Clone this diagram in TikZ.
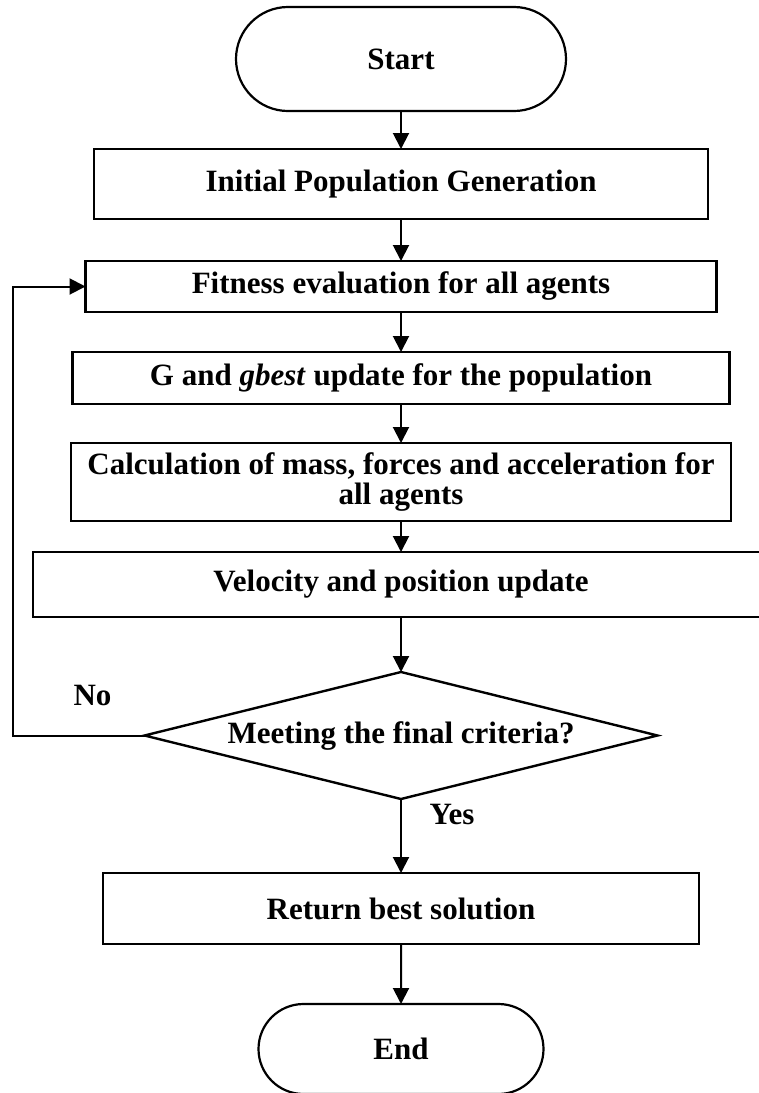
\documentclass[tikz,border=0pt]{standalone}
\usepackage{fontspec}
\setmainfont{Liberation Serif}
\usetikzlibrary{positioning, arrows.meta, shapes.geometric, shapes.misc}

\begin{document}
\begin{tikzpicture}[
    font=\bfseries\fontsize{31}{30}\selectfont,
    >={Triangle[length=16pt,width=16pt]},
    box/.style={draw, line width=2.6pt, inner sep=0pt, outer sep=0pt, align=center},
    term/.style={box, rounded rectangle, line width=2.2pt},
    cond/.style={draw, line width=2.4pt, diamond, aspect=4.04, inner sep=0pt, outer sep=0pt,
                 minimum width=513pt, minimum height=127pt},
    lbl/.style={inner sep=0pt},
    arrow/.style={->, line width=2pt},
]
\useasboundingbox (0,0) rectangle (759pt,-1093pt);

% ------------------------------------------------------------ main column ---
\node[term, minimum width=330pt, minimum height=104pt] (start) at (401pt,-59pt) {Start};
\node[box, minimum width=614pt, minimum height=70pt, below=38pt of start] (init) {Initial Population Generation};
\node[box, minimum width=631pt, minimum height=51pt, below=42pt of init] (fit) {Fitness evaluation for all agents};
\node[box, minimum width=657pt, minimum height=52pt, below=40pt of fit] (gbest) {G and \textit{gbest} update for the population};
\node[box, minimum width=660pt, minimum height=78pt, below=39pt of gbest] (calc) {Calculation of mass, forces and acceleration for\\all agents};
\node[box, minimum width=736pt, minimum height=65pt, below=31pt of calc] (vel) {Velocity and position update};

% --------------------------------------------------------------- decision ---
\node[cond, below=55pt of vel] (crit) {Meeting the final criteria?};
\node[box, minimum width=596pt, minimum height=71pt, below=74pt of crit] (ret) {Return best solution};
\node[term, minimum width=285pt, minimum height=90pt, below=60pt of ret] (stop) {End};

\draw[arrow] (start) -- (init);
\draw[arrow] (init) -- (fit);
\draw[arrow] (fit) -- (gbest);
\draw[arrow] (gbest) -- (calc);
\draw[arrow] (calc) -- (vel);
\draw[arrow] (vel) -- (crit);
\draw[arrow] (crit) -- (ret);
\draw[arrow] (ret) -- (stop);

% ------------------------------------------------------------- loop back ---
\coordinate[left=132pt of crit.west] (back);
\draw[arrow] (crit.west) -- (back) |- (fit.west);
\node[lbl] (no) at ([shift={(-52pt,40pt)}]crit.west) {No};
\node[lbl] (yes) at ([shift={(51pt,-15pt)}]crit.south) {Yes};

\end{tikzpicture}
\end{document}
